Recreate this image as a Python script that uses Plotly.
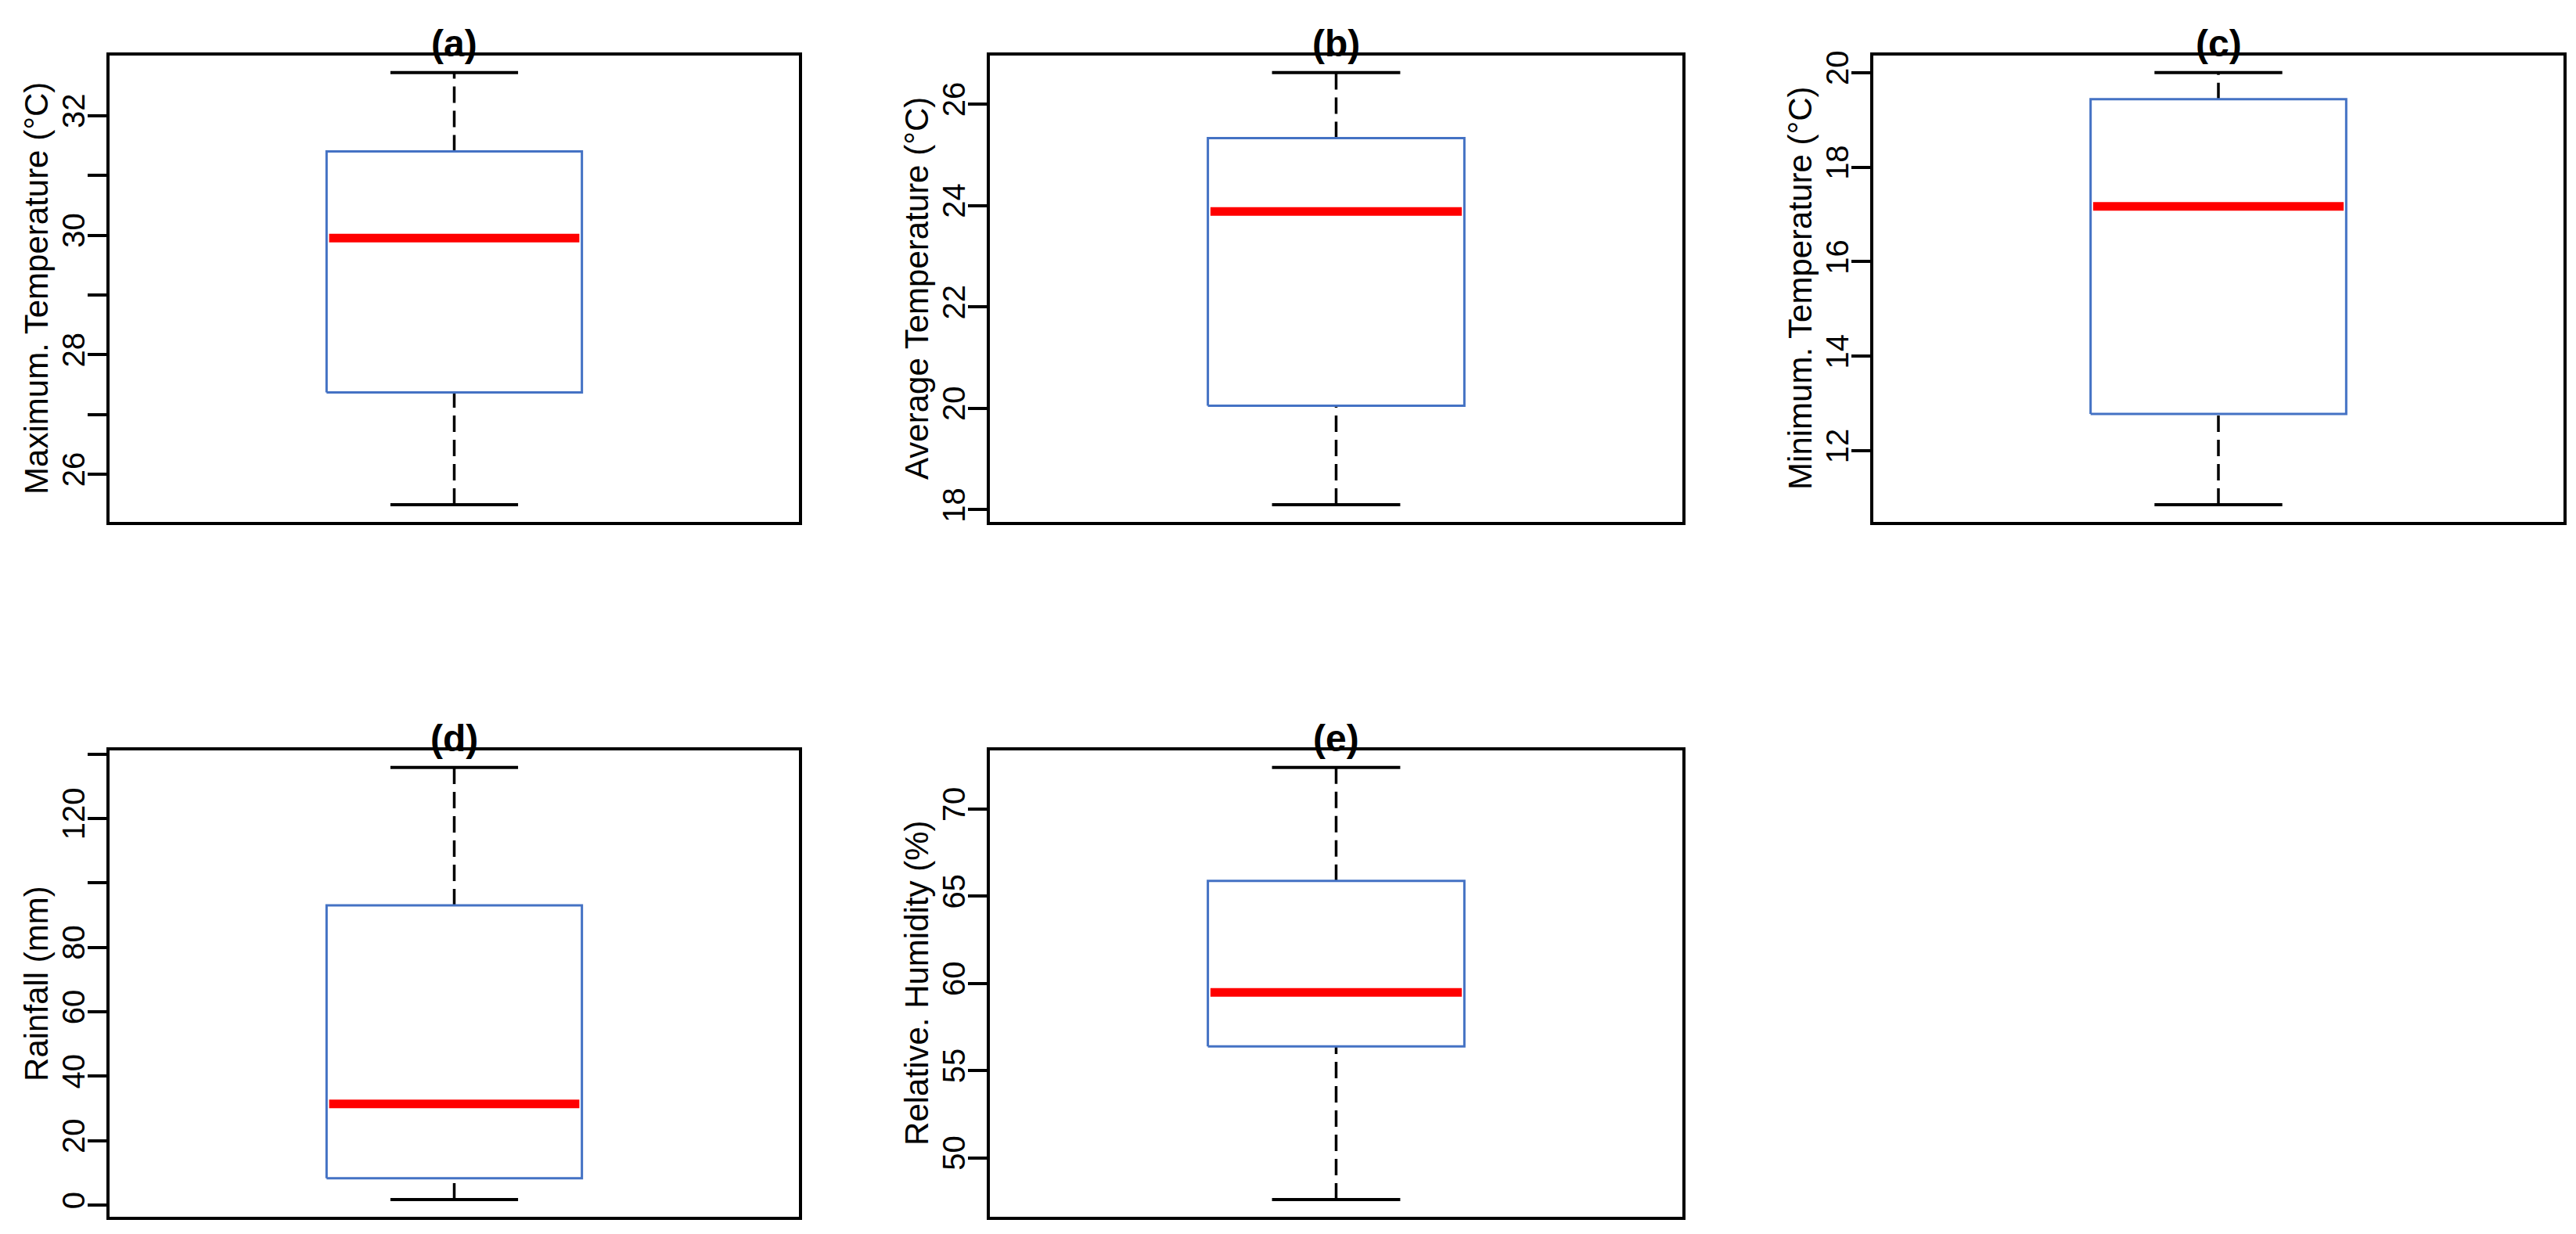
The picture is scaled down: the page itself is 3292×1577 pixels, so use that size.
import plotly.graph_objects as go

# ---------------- data ----------------
panel_labels = ["(a)", "(b)", "(c)", "(d)", "(e)"]
y_titles = [
    "Maximum. Temperature (°C)",
    "Average Temperature (°C)",
    "Minimum. Temperature (°C)",
    "Rainfall (mm)",
    "Relative. Humidity (%)",
]
whisker_low = [25.49, 18.10, 10.86, 1.7, 47.60]
q1 = [27.37, 20.05, 12.78, 8.3, 56.39]
median = [29.95, 23.88, 17.17, 31.4, 59.48]
q3 = [31.40, 25.33, 19.44, 93.0, 65.88]
whisker_high = [32.72, 26.62, 20.00, 135.8, 72.38]

tick_vals = [
    [26, 27, 28, 29, 30, 31, 32],
    [18, 20, 22, 24, 26],
    [12, 14, 16, 18, 20],
    [0, 20, 40, 60, 80, 100, 120, 140],
    [50, 55, 60, 65, 70],
]
tick_text = [
    ["26", "", "28", "", "30", "", "32"],
    ["18", "20", "22", "24", "26"],
    ["12", "14", "16", "18", "20"],
    ["0", "20", "40", "60", "80", "", "120", ""],
    ["50", "55", "60", "65", "70"],
]

# ---------------- layout geometry (pixels of the 3292x1577 page) ----------------
W, H = 3292, 1577
frames = [  # (left, right, top, bottom)
    (140, 1021, 65, 664),
    (1265, 2150, 65, 664),
    (2394, 3276, 65, 664),
    (140, 1021, 957, 1556),
    (1265, 2150, 957, 1556),
]
BOX_HALF = 0.2
CAP_HALF = 0.1
CENTER = 1.0
BLUE = "#4472C4"
FONT = "Liberation Sans, Arial, sans-serif"

fig = go.Figure()
annotations = []
layout_axes = {}

for i in range(5):
    n = "" if i == 0 else str(i + 1)
    xa, ya = "x" + n, "y" + n
    lo, a, m, b, hi = whisker_low[i], q1[i], median[i], q3[i], whisker_high[i]

    # dashed whiskers
    fig.add_trace(go.Scatter(
        x=[CENTER, CENTER, None, CENTER, CENTER], y=[lo, a, None, b, hi],
        mode="lines", line=dict(color="black", width=3.5, dash="21px,10px"),
        xaxis=xa, yaxis=ya, showlegend=False, hoverinfo="skip"))
    # staples
    fig.add_trace(go.Scatter(
        x=[CENTER - CAP_HALF, CENTER + CAP_HALF, None, CENTER - CAP_HALF, CENTER + CAP_HALF],
        y=[lo, lo, None, hi, hi],
        mode="lines", line=dict(color="black", width=4),
        xaxis=xa, yaxis=ya, showlegend=False, hoverinfo="skip"))
    # box
    fig.add_trace(go.Scatter(
        x=[CENTER - BOX_HALF, CENTER + BOX_HALF, CENTER + BOX_HALF, CENTER - BOX_HALF, CENTER - BOX_HALF],
        y=[a, a, b, b, a],
        mode="lines", line=dict(color=BLUE, width=3),
        xaxis=xa, yaxis=ya, showlegend=False, hoverinfo="skip"))
    # median
    fig.add_trace(go.Scatter(
        x=[CENTER - BOX_HALF + 0.004, CENTER + BOX_HALF - 0.004], y=[m, m],
        mode="lines", line=dict(color="red", width=11),
        xaxis=xa, yaxis=ya, showlegend=False, hoverinfo="skip"))

    L, R, T, B = frames[i]
    pad = 0.04 * (hi - lo)
    layout_axes["xaxis" + n] = dict(
        domain=[L / W, R / W], range=[0.46, 1.54], anchor=ya,
        showgrid=False, zeroline=False, showticklabels=False, ticks="",
        showline=True, mirror=True, linecolor="black", linewidth=4)
    layout_axes["yaxis" + n] = dict(
        domain=[1 - B / H, 1 - T / H], range=[lo - pad, hi + pad], anchor=xa,
        showgrid=False, zeroline=False,
        tickmode="array", tickvals=tick_vals[i], ticktext=tick_text[i],
        ticks="outside", ticklen=24, tickwidth=4, tickcolor="black",
        tickangle=-90, tickfont=dict(family=FONT, size=40, color="black"),
        ticklabelstandoff=-12,
        showline=True, mirror=True, linecolor="black", linewidth=4)

    # panel title
    annotations.append(dict(
        text="<b>" + panel_labels[i] + "</b>", xref="paper", yref="paper",
        x=(L + R) / 2 / W, y=1 - (T - 15) / H, xanchor="center", yanchor="middle",
        showarrow=False, font=dict(family=FONT, size=48, color="black")))
    # y-axis title
    annotations.append(dict(
        text=y_titles[i], xref="paper", yref="paper", textangle=-90,
        x=(L - 93) / W, y=1 - (T + B) / 2 / H, xanchor="center", yanchor="middle",
        showarrow=False, font=dict(family=FONT, size=42, color="black")))

fig.update_layout(
    width=W, height=H, autosize=False,
    margin=dict(l=0, r=0, t=0, b=0),
    paper_bgcolor="white", plot_bgcolor="white",
    annotations=annotations, **layout_axes)

fig.write_html(
    "out.html",
    config={"displayModeBar": False, "staticPlot": True},
    post_script="document.body.style.margin='0';document.body.style.overflow='hidden';")
